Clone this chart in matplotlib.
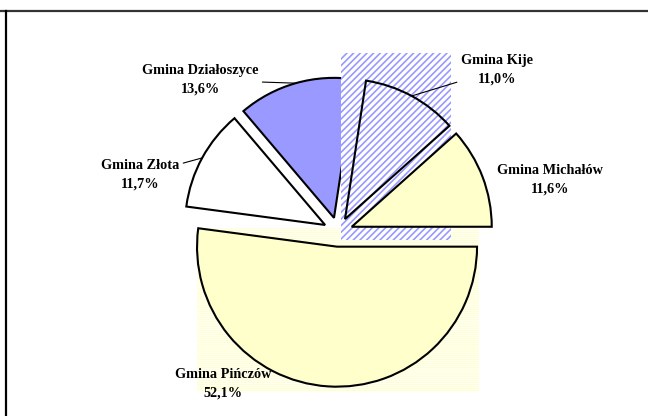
import matplotlib
matplotlib.use("Agg")
import numpy as np
import matplotlib.pyplot as plt
from matplotlib.patches import Rectangle
from matplotlib.lines import Line2D

# dane
gminy = ["Gmina Pińczów", "Gmina Złota", "Gmina Działoszyce", "Gmina Kije", "Gmina Michałów"]
udzial = [52.1, 11.7, 13.6, 11.0, 11.6]
procenty = ["52,1%", "11,7%", "13,6%", "11,0%", "11,6%"]
kolory = ["#FFFFCC", "#FFFFFF", "#9999FF", "none", "#FFFFCC"]

W, H = 648, 416
# położenie opisów (piksele obrazka, y od góry)
opisy_xy = [(223, 384), (140, 175), (200, 80), (497, 70), (550, 180)]
z_linia = [False, True, True, True, False]

fig = plt.figure(figsize=(W / 100, H / 100), dpi=100)
ax = fig.add_axes([0, 0, 1, 1])
wedges, _ = ax.pie(udzial, startangle=0, counterclock=False,
                   explode=[14.7] * len(udzial), radius=140,
                   center=(338, H - 232), colors=kolory,
                   wedgeprops=dict(edgecolor='black', linewidth=1.5))
ax.set_xlim(0, W)
ax.set_ylim(0, H)
ax.set_aspect('equal')
ax.axis('off')

for w, z in zip(wedges, [1, 1, 1, 2.5, 2]):
    w.set_zorder(z)

# tła wzorów (jak w oryginalnym wykresie)
plt.rcParams['hatch.linewidth'] = 0.5
b = wedges[0].get_path().get_extents()
ax.add_patch(Rectangle((b.x0, b.y0 - 5), b.width + 2, b.height + 5, facecolor='white',
                       edgecolor='#FFFFB0', hatch='--------', lw=0, zorder=0.5))
plt.rcParams['hatch.linewidth'] = 1.2
b = wedges[3].get_path().get_extents()
ax.add_patch(Rectangle((b.x0 - 4, b.y0 - 21), b.width + 6, b.height + 49, facecolor='white',
                       edgecolor='#9999FF', hatch='/////', lw=0, zorder=1.5))

font = dict(family=['Liberation Serif', 'DejaVu Serif'], weight='bold', size=10.3)
for w, g, p, (tx, ty), linia in zip(wedges, gminy, procenty, opisy_xy, z_linia):
    tm = np.deg2rad((w.theta1 + w.theta2) / 2)
    px = w.center[0] + w.r * np.cos(tm)
    py = w.center[1] + w.r * np.sin(tm)
    props = dict(arrowstyle='-', color='black', lw=0.8, shrinkA=1, shrinkB=0) if linia else None
    ax.annotate(g + "\n" + p, xy=(px, py), xytext=(tx, H - ty), ha='center', va='center',
                linespacing=1.6, arrowprops=props, zorder=5, **font)

# ramka
fig.add_artist(Line2D([0, 1], [1 - 11 / H] * 2, transform=fig.transFigure, color='#333333', lw=1.6))
fig.add_artist(Line2D([6 / W] * 2, [0, 1 - 11 / H], transform=fig.transFigure, color='black', lw=1.6))

fig.savefig("out.png", dpi=100)
